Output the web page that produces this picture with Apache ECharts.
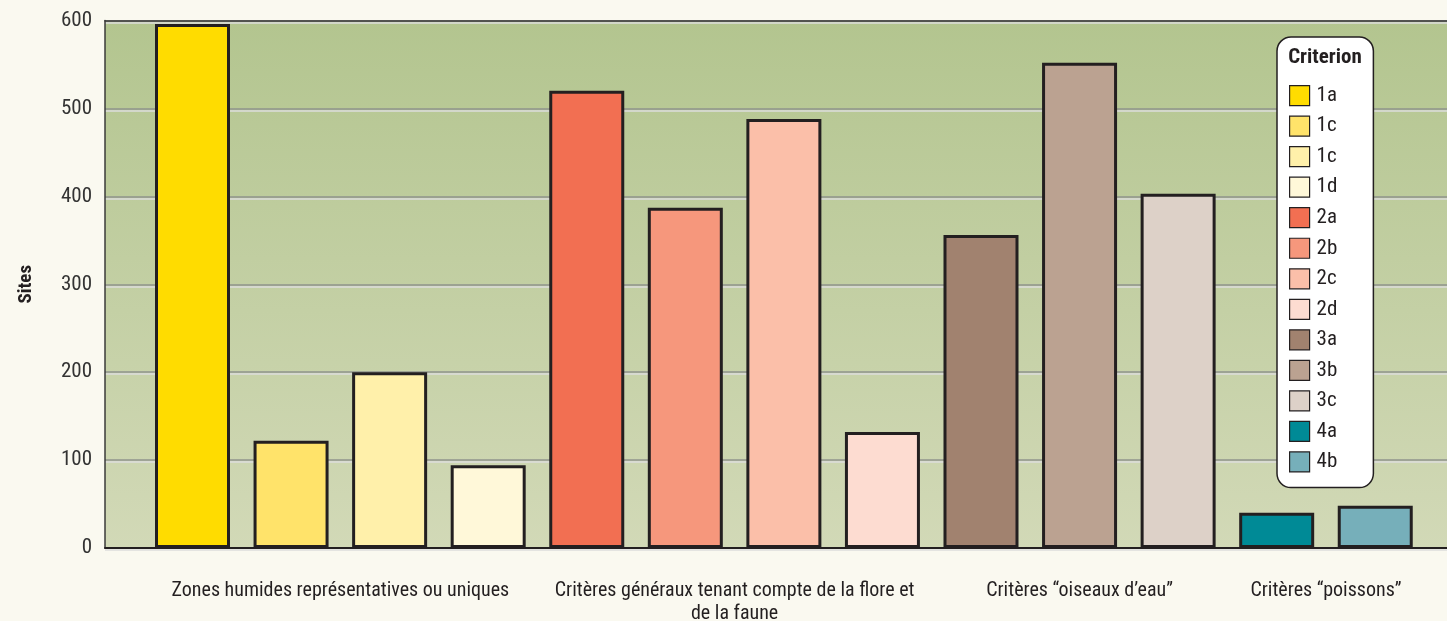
<!DOCTYPE html>
<html>
<head>
<meta charset="utf-8">
<script src="https://cdn.jsdelivr.net/npm/echarts@6/dist/echarts.min.js"></script>
<style>
html,body{margin:0;padding:0;background:#faf9f0;}
#c{width:1447px;height:621px;}
</style>
</head>
<body>
<div id="c"></div>
<script>
// ---- data ----
const criteria = ['1a','1c','1c','1d','2a','2b','2c','2d','3a','3b','3c','4a','4b'];
const sites = [596, 122, 200, 94, 520, 387, 488, 132, 356, 552, 403, 40, 48];
const barColors = ['#ffdc00','#ffe36a','#fff0aa','#fff8d9','#f26f52','#f6977c','#fbbfa9','#fddcd1','#a1826f','#bba291','#ddd1c8','#008a96','#76afba'];
const groupNames = ['Zones humides représentatives ou uniques','Critères généraux tenant compte de la flore et\nde la faune','Critères “oiseaux d’eau”','Critères “poissons”'];
const groupSizes = [4, 4, 3, 2];
const yTicks = [0, 100, 200, 300, 400, 500, 600];
const axisTitle = 'Sites';
const legendTitle = 'Criterion';

const FONT = "'Roboto Condensed','Liberation Sans Narrow','DejaVu Sans Condensed',sans-serif";
const INK = '#231f20';
const X_MIN = -0.8878, X_MAX = 12.728;

// group centres on the bar index scale
const groupCenters = [];
let start = 0;
groupSizes.forEach(n => { groupCenters.push(start + (n - 1) / 2); start += n; });

// unique series names (duplicate labels get zero-width spaces)
const seen = {};
const seriesNames = criteria.map(c => { const k = seen[c] || 0; seen[c] = k + 1; return c + '\u200b'.repeat(k); });

const series = criteria.map((c, i) => ({
  type: 'bar',
  name: seriesNames[i],
  stack: 'criteria',
  data: criteria.map((_, j) => [j, j === i ? sites[i] : '-']),
  barWidth: 75,
  itemStyle: { color: barColors[i], borderColor: INK, borderWidth: 3 },
  emphasis: { disabled: true }
}));

const chart = echarts.init(document.getElementById('c'), null, { renderer: 'canvas' });
chart.setOption({
  animation: false,
  backgroundColor: '#faf9f0',
  textStyle: { fontFamily: FONT },
  grid: {
    left: 105, right: 0, top: 20.5, bottom: 73,
    outerBoundsMode: 'none',
    containLabel: false,
    show: true,
    borderWidth: 0,
    backgroundColor: new echarts.graphic.LinearGradient(0, 0, 0, 1, [
      { offset: 0, color: '#b3c58f' },
      { offset: 1, color: '#d2d9b7' }
    ])
  },
  xAxis: [{
    type: 'value',
    min: X_MIN, max: X_MAX,
    splitLine: { show: false },
    axisTick: { show: false },
    axisLine: { show: true, onZero: false, lineStyle: { color: INK, width: 2 } },
    axisLabel: {
      customValues: groupCenters,
      showMinLabel: true, showMaxLabel: true, hideOverlap: false,
      formatter: v => { const k = groupCenters.findIndex(g => Math.abs(g - v) < 1e-6); return k >= 0 ? groupNames[k] : ''; },
      margin: 31, fontSize: 20, lineHeight: 23, color: INK, fontFamily: FONT
    }
  }, {
    type: 'value', position: 'top',
    min: X_MIN, max: X_MAX,
    splitLine: { show: false },
    axisTick: { show: false },
    axisLabel: { show: false },
    axisLine: { show: true, onZero: false, lineStyle: { color: '#3a3a3a', width: 1.5 } }
  }],
  yAxis: {
    type: 'value',
    min: yTicks[0], max: yTicks[yTicks.length - 1], interval: 100,
    name: axisTitle, nameLocation: 'middle', nameGap: 69,
    nameTextStyle: { fontSize: 19, fontWeight: 'bold', color: INK, fontFamily: FONT },
    axisLine: { show: true, onZero: false, lineStyle: { color: '#3a3a3a', width: 1.5 } },
    axisTick: { show: false },
    axisLabel: { margin: 13, fontSize: 21, color: '#333', fontFamily: FONT },
    splitLine: { show: true, lineStyle: { color: '#8f938d', width: 1.5, shadowColor: '#dcdcdc', shadowOffsetY: 2, shadowBlur: 0 } }
  },
  legend: {
    orient: 'vertical',
    left: 1277, top: 37,
    itemWidth: 20, itemHeight: 20, itemGap: 9.33,
    padding: [48, 36, 15, 12],
    backgroundColor: '#ffffff',
    borderColor: INK, borderWidth: 1.5, borderRadius: 14,
    selectedMode: false,
    icon: 'rect',
    data: seriesNames,
    formatter: n => n.replace(/\u200b/g, ''),
    textStyle: { fontSize: 21, lineHeight: 20, color: INK, fontFamily: FONT, padding: [0, 0, 0, 2] },
    itemStyle: { borderWidth: 1.2, borderColor: INK }
  },
  graphic: [{
    type: 'text', x: 1325, y: 58, z: 100,
    style: { text: legendTitle, textAlign: 'center', textVerticalAlign: 'middle', fontSize: 21, fontWeight: 'bold', fill: INK, fontFamily: FONT }
  }],
  series: series
});
</script>
</body>
</html>
